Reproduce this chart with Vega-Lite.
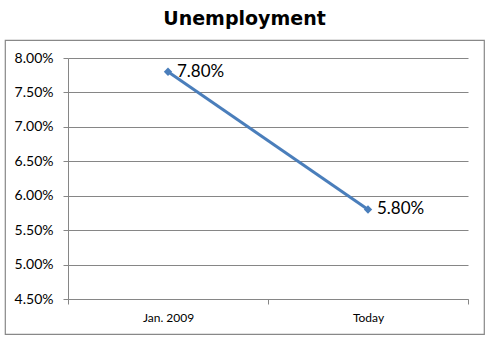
{
  "$schema": "https://vega.github.io/schema/vega-lite/v6.json",
  "autosize": "none",
  "width": 479,
  "height": 294,
  "padding": {"left": 5, "top": 40, "right": 7, "bottom": 8},
  "background": "white",
  "title": {
    "text": "Unemployment",
    "font": "DejaVu Sans",
    "fontSize": 19,
    "fontWeight": "bold",
    "color": "#000000",
    "anchor": "middle",
    "offset": 11
  },
  "config": {
    "view": {"stroke": "#888888", "strokeWidth": 1.2}
  },
  "data": {
    "values": [
      {"period": "Jan. 2009", "rate": 0.078},
      {"period": "Today", "rate": 0.058}
    ]
  },
  "encoding": {
    "x": {
      "field": "period",
      "type": "nominal",
      "sort": null,
      "scale": {"type": "band", "range": [63, 463], "paddingInner": 0, "paddingOuter": 0},
      "axis": {
        "title": null,
        "offset": -35,
        "labelAngle": 0,
        "tickBand": "extent",
        "domainColor": "#868686",
        "tickColor": "#868686",
        "tickSize": 5,
        "labelPadding": 8,
        "labelFont": "Lato",
        "labelFontSize": 12,
        "labelColor": "#000000",
        "grid": false
      }
    },
    "y": {
      "field": "rate",
      "type": "quantitative",
      "scale": {"domain": [0.045, 0.08], "nice": false, "zero": false, "range": [259, 18]},
      "axis": {
        "title": null,
        "offset": -63,
        "format": ".2%",
        "values": [0.045, 0.05, 0.055, 0.06, 0.065, 0.07, 0.075, 0.08],
        "grid": true,
        "gridColor": "#868686",
        "gridOpacity": 1,
        "gridWidth": 1,
        "domainColor": "#868686",
        "tickColor": "#868686",
        "tickSize": 5,
        "labelPadding": 10,
        "labelFont": "Lato",
        "labelFontSize": 14,
        "labelColor": "#000000"
      }
    }
  },
  "layer": [
    {
      "mark": {"type": "line", "color": "#4a7ebb", "strokeWidth": 3}
    },
    {
      "mark": {"type": "point", "shape": "diamond", "filled": true, "color": "#4a7ebb", "size": 70, "opacity": 1}
    },
    {
      "mark": {"type": "text", "align": "left", "baseline": "middle", "dx": 9, "font": "Lato", "fontSize": 17, "color": "#000000"},
      "encoding": {
        "text": {"field": "rate", "type": "quantitative", "format": ".2%"}
      }
    }
  ]
}
